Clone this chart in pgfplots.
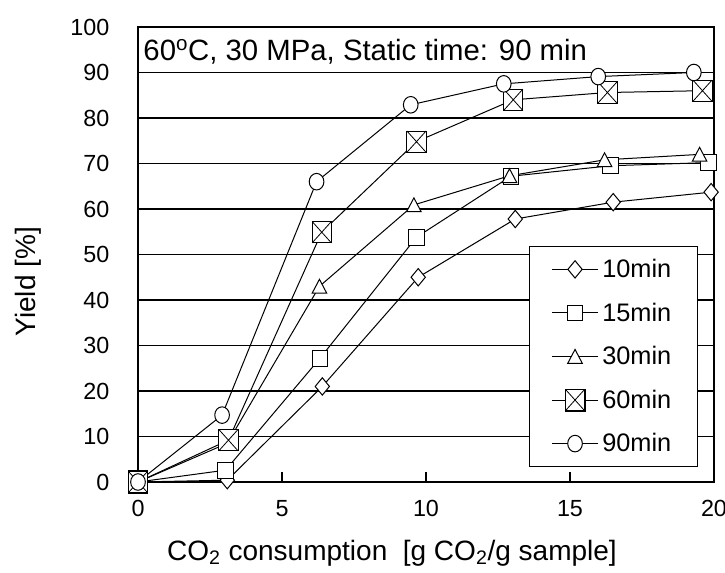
\documentclass[border=0pt]{standalone}
\usepackage{fontspec}
\setmainfont{Liberation Sans}
\usepackage{pgfplots}
\pgfplotsset{compat=1.18}
\pgfdeclareplotmark{sqx}{%
  \pgfpathrectangle{\pgfpoint{-\pgfplotmarksize}{-\pgfplotmarksize}}{\pgfpoint{2\pgfplotmarksize}{2\pgfplotmarksize}}%
  \pgfusepathqfillstroke
  \pgfsetlinewidth{0.6pt}%
  \pgfpathmoveto{\pgfpoint{-\pgfplotmarksize}{-\pgfplotmarksize}}\pgfpathlineto{\pgfpoint{\pgfplotmarksize}{\pgfplotmarksize}}%
  \pgfpathmoveto{\pgfpoint{-\pgfplotmarksize}{\pgfplotmarksize}}\pgfpathlineto{\pgfpoint{\pgfplotmarksize}{-\pgfplotmarksize}}%
  \pgfusepathqstroke}
\begin{document}
\begin{tikzpicture}
\begin{axis}[
  at={(0,0)}, anchor=south west, scale only axis,
  width=432pt, height=341.25pt,
  xmin=0, xmax=20, ymin=0, ymax=100,
  xtick={0,5,10,15,20}, ytick={0,10,...,100},
  tick align=inside, xtick pos=bottom, ytick pos=left,
  major tick length=7.5pt,
  x tick style={black, line width=0.8pt},
  y tick style={draw=none},
  ymajorgrids, grid style={black, line width=0.9pt},
  axis line style={line width=1pt},
  clip=false,
  ticklabel style={font=\fontsize{17.5}{17.5}\selectfont},
  xticklabel style={yshift=-10pt},
  yticklabel style={xshift=-18pt},
  /pgf/number format/assume math mode=true,
  xlabel={CO\textsubscript{2} consumption\ \ [g CO\textsubscript{2}/g sample]},
  ylabel={Yield [\%]},
  label style={font=\fontsize{21}{21}\selectfont},
  xlabel style={at={(axis description cs:0.441,-0.156)}, anchor=center},
  ylabel style={at={(axis description cs:-0.191,0.44)}, anchor=center},
  every axis plot/.append style={black, line width=0.75pt, mark options={fill=white, solid, line width=0.75pt}},
  legend style={at={(0.679,0.519)}, anchor=north west, draw=black, line width=1pt,
    font=\fontsize{19}{19}\selectfont, row sep=11.4pt, inner xsep=16.5pt, inner ysep=6.5pt,
    nodes={inner sep=3pt}},
  legend cell align=left,
  legend image code/.code={\draw[mark repeat=2,mark phase=2] plot coordinates {(0cm,0cm) (0.6cm,0cm) (1.2cm,0cm)};},
]
\addplot[mark=diamond*, mark size=6.5pt, mark options={fill=white, xscale=1.1}] coordinates {
 (0,0) (3.1,0.4) (6.4,21.0) (9.73,45.0) (13.1,57.8) (16.5,61.5) (19.9,63.7)};
\addlegendentry{10min}
\addplot[mark=square*, mark size=5.9pt] coordinates {
 (0,0) (3.04,2.6) (6.32,27.2) (9.67,53.8) (12.95,67.2) (16.4,69.5) (19.8,70.2)};
\addlegendentry{15min}
\addplot[mark=triangle*, mark size=6.3pt, mark options={fill=white, yscale=1.1, yshift=-1.5pt}] coordinates {
 (0,0) (3.1,8.5) (6.3,43.0) (9.58,60.9) (12.9,67.3) (16.2,70.8) (19.5,72.0)};
\addlegendentry{30min}
\addplot[mark=sqx, mark size=8pt, mark options={fill=white, line width=1.3pt, xscale=0.9}] coordinates {
 (0,0) (3.14,9.2) (6.38,54.9) (9.67,74.8) (13.03,84.0) (16.3,85.6) (19.6,86.0)};
\addlegendentry{60min}
\addplot[mark=*, mark size=5.5pt, mark options={fill=white, yscale=1.13}] coordinates {
 (0,0) (2.92,14.7) (6.2,66.0) (9.47,82.9) (12.7,87.5) (15.98,89.1) (19.3,90.0)};
\addlegendentry{90min}
\node[anchor=base west, font=\fontsize{22}{22}\selectfont, inner sep=0pt] at (rel axis cs:0.009,0.927) {60\textsuperscript{o}C, 30 MPa, Static time: 90 min};
\end{axis}
\pgfresetboundingbox
\path[use as bounding box] (-103.5pt,-68.25pt) rectangle (440.25pt,361.5pt);
\end{tikzpicture}
\end{document}
